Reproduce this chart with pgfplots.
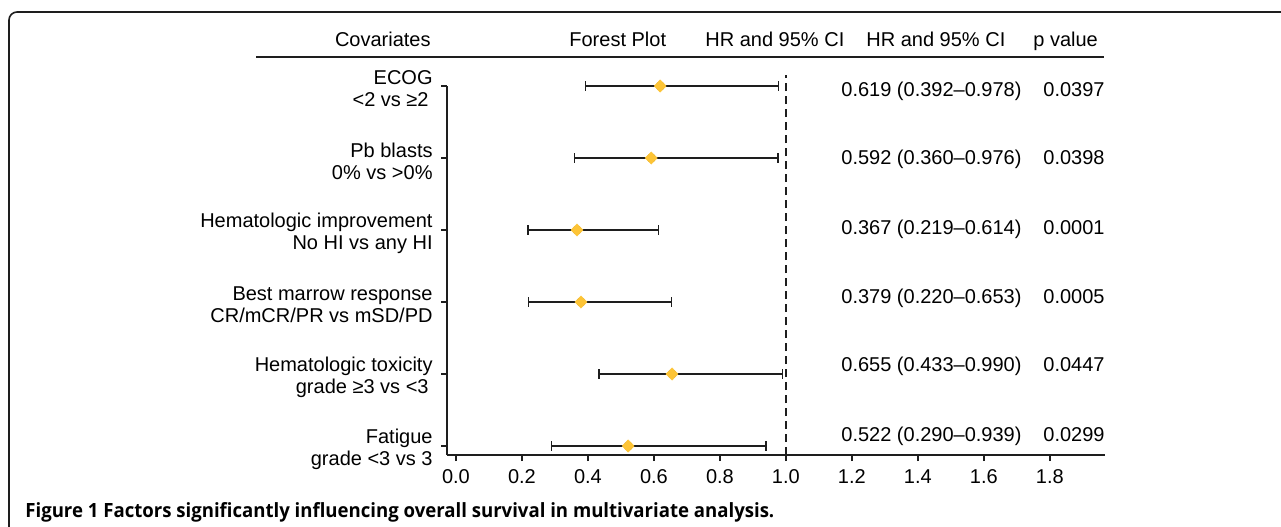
\documentclass[border=0pt]{standalone}
\usepackage{pgfplots}
\usepackage{pgfplotstable}
\pgfplotsset{compat=1.18}
\usepackage{fontspec}
\setmainfont{Liberation Sans}
\newfontfamily\capfont{Open Sans}
\definecolor{gold}{RGB}{253,196,54}
\definecolor{ink}{RGB}{30,30,30}
\newsavebox\capbox

% rows: 6 = ECOG (top) ... 1 = Fatigue (bottom)
\pgfplotstableread{
y hr lo hi
6 0.619 0.392 0.978
5 0.592 0.360 0.976
4 0.367 0.219 0.614
3 0.379 0.220 0.653
2 0.655 0.433 0.990
1 0.522 0.290 0.939
}\hrdata

\begin{document}
\sbox\capbox{\capfont\bfseries\fontsize{9.8}{11}\selectfont Figure 1 Factors significantly influencing overall survival in multivariate analysis.}%
\pgfmathsetmacro\sx{374.5pt/\wd\capbox}%
\fontsize{10}{11}\selectfont
\begin{tikzpicture}
\begin{scope}[x=0.5pt,y=-0.5pt]
\useasboundingbox (0,0) rectangle (1281,526);
% frame
\draw[line width=0.8pt, ink, rounded corners=4pt] (9,540) -- (9,12) -- (1300,12);
% header
\node[anchor=base east, inner sep=0pt] at (431,46) {Covariates};
\node[anchor=base west, inner sep=0pt] at (569,46) {Forest Plot};
\node[anchor=base west, inner sep=0pt] at (705,46) {HR and 95\% CI};
\node[anchor=base west, inner sep=0pt] at (866,46) {HR and 95\% CI};
\node[anchor=base west, inner sep=0pt] at (1033,46) {p value};
\draw[line width=0.8pt, ink] (256,57) -- (1104,57);
% values
\foreach \yy/\txt/\pv in {96/{0.619 (0.392--0.978)}/0.0397,
                          164/{0.592 (0.360--0.976)}/0.0398,
                          234/{0.367 (0.219--0.614)}/0.0001,
                          303/{0.379 (0.220--0.653)}/0.0005,
                          371/{0.655 (0.433--0.990)}/0.0447,
                          441/{0.522 (0.290--0.939)}/0.0299}{
  \node[anchor=base west, inner sep=0pt] at (841,\yy) {\txt};
  \node[anchor=base west, inner sep=0pt] at (1043,\yy) {\pv};
}
% caption
\node[anchor=west, inner sep=0pt] at (25,512) {\scalebox{\sx}[1]{\usebox\capbox}};
\end{scope}

\begin{axis}[
  at={(223.5pt,-227.5pt)}, anchor=south west,
  scale only axis, width=329pt, height=184.5pt,
  xmin=-0.027, xmax=1.967, ymin=0.875, ymax=6,
  axis x line*=bottom, axis y line*=left,
  axis line style={line width=0.75pt, ink},
  tick align=outside, major tick length=3pt,
  tick style={line width=0.75pt, ink},
  xtick={0,0.2,0.4,0.6,0.8,1.0,1.2,1.4,1.6,1.8},
  ytick={1,2,3,4,5,6},
  yticklabels={{Fatigue\\grade <3 vs 3},
               {Hematologic toxicity\\grade ≥3 vs <3\hspace*{2pt}},
               {Best marrow response\\CR/mCR/PR vs mSD/PD},
               {Hematologic improvement\\No HI vs any HI},
               {Pb blasts\\0\% vs >0\%},
               {ECOG\\<2 vs ≥2\hspace*{2pt}}},
  yticklabel style={align=right, inner sep=0pt, xshift=-4pt, yshift=-1.5pt, font=\fontsize{10}{11}\selectfont},
  xticklabel style={inner sep=0pt, yshift=-4pt, font=\fontsize{10}{11}\selectfont,
    /pgf/number format/fixed, /pgf/number format/fixed zerofill, /pgf/number format/precision=1},
  /pgf/number format/assume math mode=true,
  clip=false,
]
\addplot[ink, line width=0.75pt, dashed, dash pattern=on 4pt off 2.5pt] coordinates {(1,0.875) (1,6.153)};
\addplot[only marks, mark=none,
  error bars/.cd, x dir=both, x explicit,
  error bar style={line width=0.75pt, ink},
  error mark options={line width=0.75pt, ink, mark size=2.3pt, rotate=90}]
  table[x=hr, y=y,
        x error plus expr=\thisrow{hi}-\thisrow{hr},
        x error minus expr=\thisrow{hr}-\thisrow{lo}] {\hrdata};
\addplot[only marks, mark=diamond*, mark size=3.1pt,
  mark options={xscale=1.3, fill=gold, draw=gold, line width=0.2pt}]
  table[x=hr, y=y] {\hrdata};
\end{axis}
\end{tikzpicture}
\end{document}
